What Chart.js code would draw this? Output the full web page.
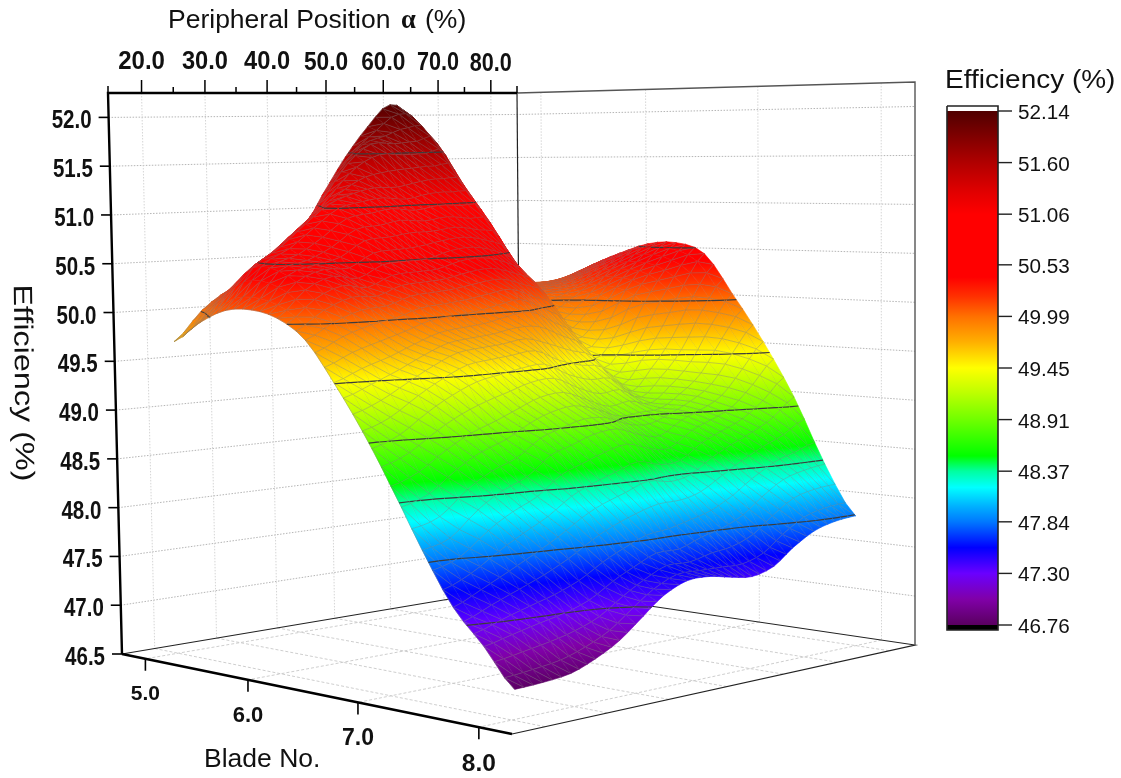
<!DOCTYPE html>
<html lang="en">
<head>
<meta charset="UTF-8">
<title>Efficiency surface</title>
<script src="https://cdn.jsdelivr.net/npm/chart.js"></script>
<style>
    html, body { margin: 0; padding: 0; background: #fff; }
    canvas { display: block; }
</style>
</head>
<body>
<canvas id="surface" width="1121" height="778"></canvas>
<script>
// axis ticks
const bladeTicks = [5, 6, 7, 8];
const alphaTicks = [20, 30, 40, 50, 60, 70, 80];
const alphaMinor = [25, 35, 45, 55, 65, 75];
const effTicks = [46.5, 47, 47.5, 48, 48.5, 49, 49.5, 50, 50.5, 51, 51.5, 52];
const barTicks = [46.76, 47.30, 47.84, 48.37, 48.91, 49.45, 49.99, 50.53, 51.06, 51.60, 52.14];

// surface grid: blade numbers, and one efficiency list per peripheral position
const bladeNo = [5, 5.25, 5.5, 5.75, 6, 6.25, 6.5, 6.75, 7, 7.25, 7.5, 7.75, 8];
const alphaPos = [20.5, 25, 29.5, 33.5, 37.5, 41.5, 45, 49, 53, 57, 60.5, 64.5, 68, 72, 76, 80];
const eff20 = [49.70, 49.92, 50.07, 50.10, 50.04, 49.85, 49.46, 49.02, 48.52, 47.95, 47.45, 47.13, 46.78];
const eff25 = [50.00, 50.22, 50.48, 50.47, 50.30, 50.00, 49.57, 49.12, 48.62, 48.02, 47.57, 47.19, 46.79];
const eff29 = [50.20, 50.42, 50.68, 50.56, 50.42, 50.10, 49.66, 49.30, 48.80, 48.25, 47.70, 47.25, 46.82];
const eff33 = [50.30, 50.60, 50.90, 50.68, 50.38, 50.12, 49.76, 49.44, 48.93, 48.40, 47.82, 47.30, 46.91];
const eff37 = [50.56, 50.85, 51.10, 50.85, 50.50, 50.20, 49.85, 49.55, 49.02, 48.50, 47.95, 47.38, 47.04];
const eff41 = [50.78, 51.20, 51.20, 50.88, 50.52, 50.22, 49.88, 49.58, 49.12, 48.68, 48.10, 47.52, 47.23];
const eff45 = [51.15, 51.50, 51.25, 50.92, 50.53, 50.24, 49.90, 49.60, 49.20, 48.75, 48.20, 47.62, 47.39];
const eff49 = [51.55, 51.70, 51.25, 50.90, 50.60, 50.28, 49.95, 49.62, 49.22, 48.83, 48.28, 47.72, 47.49];
const eff53 = [51.88, 51.70, 51.30, 50.93, 50.62, 50.30, 49.98, 49.50, 49.12, 48.85, 48.36, 47.72, 47.49];
const eff57 = [52.12, 51.72, 51.32, 50.90, 50.56, 50.22, 49.85, 49.42, 49.02, 48.76, 48.32, 47.80, 47.44];
const eff60 = [51.92, 51.70, 51.25, 50.85, 50.42, 50.12, 49.72, 49.38, 49.05, 48.72, 48.36, 47.85, 47.41];
const eff64 = [51.00, 50.80, 50.50, 50.25, 50.00, 49.72, 49.42, 49.17, 49.00, 48.85, 48.50, 47.95, 47.47];
const eff68 = [50.45, 50.30, 50.20, 50.12, 50.02, 49.85, 49.62, 49.40, 49.15, 48.93, 48.60, 48.10, 47.62];
const eff72 = [50.20, 50.15, 50.12, 50.12, 50.14, 50.14, 50.05, 49.74, 49.38, 49.05, 48.70, 48.24, 47.75];
const eff76 = [50.05, 50.10, 50.12, 50.20, 50.32, 50.38, 50.35, 50.15, 49.75, 49.30, 48.82, 48.30, 47.81];
const eff80 = [50.00, 50.06, 50.16, 50.32, 50.45, 50.56, 50.58, 50.47, 50.05, 49.56, 49.00, 48.33, 47.83];
const effByAlpha = [eff20, eff25, eff29, eff33, eff37, eff41, eff45, eff49, eff53, eff57, eff60, eff64, eff68, eff72, eff76, eff80];

// colour ramp of the bar
const rampVal = [46.76, 47.03, 47.30, 47.57, 47.84, 48.00, 48.20, 48.37, 48.53, 48.91, 49.20, 49.45, 49.72, 49.99, 50.20, 50.40, 51.06, 51.30, 51.60, 52.14];
const rampCol = ['#5a0060', '#8000a8', '#6a00ff', '#0000ff', '#0078ff', '#00b0ff', '#00ffff', '#00ffa0', '#00ff00', '#70ff00', '#c0ff00', '#ffff00', '#ffb000', '#ff7000', '#ff3000', '#ff0000', '#ff0000', '#e00000', '#b00000', '#500000'];

// box of the 3D view, in page pixels: floor corners then top corners
const fl = { a: [122, 654], b: [512, 734], c: [915, 645], d: [521, 587] };
const tp = { a: [108, 93], b: [505, 107], c: [915, 82], d: [517, 93] };
const effMin = 46.5, effMax = 52.25;
// tick positions along the box edges (perspective shortens them)
const uAt = [0.082, 0.237, 0.389, 0.533, 0.673, 0.807, 0.936];
const vAt = [0.06, 0.323, 0.605, 0.915];

function lerpTable(x, xs, ys) {
    let i = 0;
    while (i < xs.length - 2 && x > xs[i + 1]) i++;
    return ys[i] + (ys[i + 1] - ys[i]) * (x - xs[i]) / (xs[i + 1] - xs[i]);
}
function uvwPoint(u, v, w) {
    const k = [(1 - u) * (1 - v), (1 - u) * v, u * v, u * (1 - v)];
    const names = ['a', 'b', 'c', 'd'];
    let x = 0, y = 0;
    names.forEach((n, i) => {
        x += k[i] * (fl[n][0] * (1 - w) + tp[n][0] * w);
        y += k[i] * (fl[n][1] * (1 - w) + tp[n][1] * w);
    });
    return { x, y };
}
function project(blade, alpha, eff) {
    const u = lerpTable(alpha, alphaTicks, uAt);
    const v = lerpTable(blade, bladeTicks, vAt);
    const p = uvwPoint(u, v, (eff - effMin) / (effMax - effMin));
    p.z = eff;
    return p;
}
function wOf(eff) { return (eff - effMin) / (effMax - effMin); }

// curved drawing of the sheet between the read values, same idea as a line's tension
const steps = 3;
function curve(list) {
    const out = [];
    for (let i = 0; i < list.length - 1; i++) {
        const p0 = list[Math.max(i - 1, 0)], p1 = list[i], p2 = list[i + 1], p3 = list[Math.min(i + 2, list.length - 1)];
        for (let s = 0; s < steps; s++) {
            const t = s / steps;
            out.push(0.5 * (2 * p1 + (p2 - p0) * t + (2 * p0 - 5 * p1 + 4 * p2 - p3) * t * t + (3 * p1 - p0 - 3 * p2 + p3) * t * t * t));
        }
    }
    out.push(list[list.length - 1]);
    return out;
}
function straight(list) {
    const out = [];
    for (let i = 0; i < list.length - 1; i++) {
        for (let s = 0; s < steps; s++) out.push(list[i] + (list[i + 1] - list[i]) * s / steps);
    }
    out.push(list[list.length - 1]);
    return out;
}
const bladeDraw = straight(bladeNo);
const alphaDraw = straight(alphaPos);
const colCurves = effByAlpha.map(curve);
const effDraw = bladeDraw.map((b, i) => curve(colCurves.map(c => c[i])));   // [blade][alpha]

const canvas = document.getElementById('surface');
const g2d = canvas.getContext('2d');

function triFill(p, q, r) {
    const pts = [p, q, r].sort((m, n) => m.z - n.z);
    const lo = pts[0], hi = pts[2];
    const det = (q.x - p.x) * (r.y - p.y) - (r.x - p.x) * (q.y - p.y);
    if (Math.abs(det) < 0.05 || hi.z - lo.z < 0.001) return rampColor(lo.z);
    const A = ((q.z - p.z) * (r.y - p.y) - (r.z - p.z) * (q.y - p.y)) / det;
    const B = ((r.z - p.z) * (q.x - p.x) - (q.z - p.z) * (r.x - p.x)) / det;
    const L = A * A + B * B;
    const t = (hi.z - lo.z) / L;
    const g = g2d.createLinearGradient(lo.x, lo.y, lo.x + A * t, lo.y + B * t);
    g.addColorStop(0, rampColor(lo.z));
    rampVal.forEach((val, i) => {
        if (val > lo.z && val < hi.z) g.addColorStop((val - lo.z) / (hi.z - lo.z), rampCol[i]);
    });
    g.addColorStop(1, rampColor(hi.z));
    return g;
}
function hex(c) { return [1, 3, 5].map(i => parseInt(c.substr(i, 2), 16)); }
function rampColor(val) {
    let i = 0;
    if (val <= rampVal[0]) return rampCol[0];
    if (val >= rampVal[rampVal.length - 1]) return rampCol[rampCol.length - 1];
    while (val > rampVal[i + 1]) i++;
    const t = (val - rampVal[i]) / (rampVal[i + 1] - rampVal[i]);
    const c0 = hex(rampCol[i]), c1 = hex(rampCol[i + 1]);
    return 'rgb(' + c0.map((c, k) => Math.round(c + (c1[k] - c) * t)).join(',') + ')';
}

function lineSet(points, color, width, dash) {
    return { data: points, showLine: true, fill: false, pointRadius: 0, borderColor: color, borderWidth: width, borderDash: dash || [], tension: 0, spanGaps: false };
}
function polySet(points, fillStyle, stroke, width) {
    return { data: points.concat([points[0]]), showLine: true, fill: 'shape', backgroundColor: fillStyle, pointRadius: 0, borderColor: stroke, borderWidth: width, tension: 0 };
}
const gap = { x: NaN, y: NaN };

// paint order: back to front, reversed at the end because Chart.js draws the last dataset first
const layers = [];

// walls and floor grid
effTicks.slice(1).forEach(e => {
    layers.push(lineSet([uvwPoint(0, 0, wOf(e)), uvwPoint(1, 0, wOf(e)), uvwPoint(1, 1, wOf(e))], '#adadad', 0.9, [1.5, 1.5]));
});
alphaTicks.forEach((a, i) => {
    layers.push(lineSet([uvwPoint(uAt[i], 0, 1), uvwPoint(uAt[i], 0, 0)], '#d0d0d0', 0.9, [1.5, 1.5]));
    layers.push(lineSet([uvwPoint(uAt[i], 0, 0), uvwPoint(uAt[i], 1, 0)], '#c8c8c8', 0.9, [3, 2]));
});
bladeTicks.forEach((b, i) => {
    layers.push(lineSet([uvwPoint(1, vAt[i], 1), uvwPoint(1, vAt[i], 0)], '#d0d0d0', 0.9, [1.5, 1.5]));
    layers.push(lineSet([uvwPoint(1, vAt[i], 0), uvwPoint(0, vAt[i], 0)], '#c8c8c8', 0.9, [3, 2]));
});

// box edges
layers.push(lineSet([uvwPoint(0, 0, 0), uvwPoint(1, 0, 0), uvwPoint(1, 1, 0), uvwPoint(0, 1, 0)], '#222', 1.2));
layers.push(lineSet([uvwPoint(1, 0, 0), uvwPoint(1, 0, 1)], '#222', 1.2));
layers.push(lineSet([uvwPoint(1, 0, 1), uvwPoint(1, 1, 1), uvwPoint(1, 1, 0)], '#555', 1.4));

// surface cells, farthest first
const levels = barTicks.slice(1, -1);
for (let i = 0; i < bladeDraw.length - 1; i++) {
    for (let j = alphaDraw.length - 2; j >= 0; j--) {
        const p00 = project(bladeDraw[i], alphaDraw[j], effDraw[i][j]);
        const p01 = project(bladeDraw[i], alphaDraw[j + 1], effDraw[i][j + 1]);
        const p10 = project(bladeDraw[i + 1], alphaDraw[j], effDraw[i + 1][j]);
        const p11 = project(bladeDraw[i + 1], alphaDraw[j + 1], effDraw[i + 1][j + 1]);
        const f1 = triFill(p00, p01, p11), f2 = triFill(p00, p11, p10);
        layers.push(polySet([p00, p01, p11], f1, f1, 0.6));
        layers.push(polySet([p00, p11, p10], f2, f2, 0.6));

        // wire mesh on the cell
        layers.push(lineSet([p10, p00, p01, gap, p00, p11], 'rgba(120,120,120,0.6)', 0.65));

        // contour segments crossing the two triangles
        const seg = [];
        [[p00, p01, p11], [p00, p11, p10]].forEach(tri => {
            levels.forEach(lv => {
                const hit = [];
                for (let k = 0; k < 3; k++) {
                    const m = tri[k], n = tri[(k + 1) % 3];
                    if ((m.z < lv) !== (n.z < lv)) {
                        const t = (lv - m.z) / (n.z - m.z);
                        hit.push({ x: m.x + (n.x - m.x) * t, y: m.y + (n.y - m.y) * t });
                    }
                }
                if (hit.length === 2) seg.push(hit[0], hit[1], gap);
            });
        });
        if (seg.length) layers.push(lineSet(seg, '#3c3c3c', 1.2));
    }
}

// thick axes in front
layers.push(lineSet([uvwPoint(0, 0, 0), uvwPoint(0, 0, 1), uvwPoint(1, 0, 1)], '#000', 2.4));
layers.push(lineSet([uvwPoint(0, 0, 0), uvwPoint(0, 1, 0)], '#000', 2.6));
effTicks.forEach(e => {
    const p = uvwPoint(0, 0, wOf(e));
    layers.push(lineSet([p, { x: p.x - 10, y: p.y }], '#000', 1.6));
});
alphaTicks.forEach((a, i) => {
    const p = uvwPoint(uAt[i], 0, 1);
    layers.push(lineSet([p, { x: p.x, y: p.y - 13 }], '#000', 1.5));
});
alphaMinor.forEach(a => {
    const p = uvwPoint(lerpTable(a, alphaTicks, uAt), 0, 1);
    layers.push(lineSet([p, { x: p.x, y: p.y - 6 }], '#000', 1.5));
});
layers.push(lineSet([uvwPoint(0, 0, 1), { x: 108, y: 86 }], '#000', 1.5));
layers.push(lineSet([uvwPoint(1, 0, 1), { x: 517, y: 86 }], '#000', 1.5));
bladeTicks.forEach((b, i) => {
    const p = uvwPoint(0, vAt[i], 0);
    layers.push(lineSet([p, { x: p.x, y: p.y + 12 }], '#000', 1.6));
});

// colour bar
const barL = 947, barR = 998, barTop = 106, barBot = 630;
const barY = val => 625 - (val - 46.76) * (514 / 5.38);
const barGrad = g2d.createLinearGradient(0, barY(46.76), 0, barY(52.14));
rampVal.forEach((val, i) => barGrad.addColorStop(Math.min(1, (val - 46.76) / 5.38), rampCol[i]));
const rect = (y0, y1) => [{ x: barL, y: y0 }, { x: barR, y: y0 }, { x: barR, y: y1 }, { x: barL, y: y1 }];
layers.push(polySet(rect(barY(52.14), barY(46.76)), barGrad, 'rgba(0,0,0,0)', 0));
layers.push(polySet(rect(barY(46.76), barBot), '#000', '#000', 0));
layers.push(lineSet(rect(barTop, barBot).concat([{ x: barL, y: barTop }]), '#222', 1.6));
barTicks.forEach(val => {
    layers.push(lineSet([{ x: barR, y: barY(val) }, { x: 1012, y: barY(val) }], '#222', 1.4));
});

function drawText(ctx, str, x, y, font, align, sx, sy, rot) {
    ctx.save();
    ctx.translate(x, y);
    if (rot) ctx.rotate(rot);
    ctx.scale(sx || 1, sy || 1);
    ctx.font = font;
    ctx.textAlign = align;
    ctx.textBaseline = 'alphabetic';
    ctx.fillStyle = '#111';
    ctx.fillText(str, 0, 0);
    ctx.restore();
}

const alphaLabelW = [1.0, 0.985, 0.985, 0.945, 0.945, 0.9, 0.9];
const bladeLabelSize = [21, 22, 23, 24.5];
const axisText = {
    id: 'axisText',
    afterDraw(chart) {
        const ctx = chart.ctx;
        const sans = '"Liberation Sans", Arial, sans-serif';
        alphaTicks.forEach((a, i) => {
            const p = uvwPoint(uAt[i], 0, 1);
            drawText(ctx, a.toFixed(1), p.x, 68.5 + i * 0.35, 'bold 24px ' + sans, 'center', alphaLabelW[i], 1.04);
        });
        effTicks.forEach(e => {
            const p = uvwPoint(0, 0, wOf(e));
            drawText(ctx, e.toFixed(1), p.x - 17, p.y + 11, 'bold 20.5px ' + sans, 'right', 1, 1.22);
        });
        bladeTicks.forEach((b, i) => {
            const p = uvwPoint(0, vAt[i], 0);
            drawText(ctx, b.toFixed(1), p.x, p.y + 41 + i * 0.8, 'bold ' + bladeLabelSize[i] + 'px ' + sans, 'center', 1, 1);
        });
        barTicks.forEach(val => {
            drawText(ctx, val.toFixed(2), 1018, barY(val) + 8, '20.7px ' + sans, 'left');
        });
        drawText(ctx, 'Peripheral Position', 168, 28, '26.5px ' + sans, 'left');
        drawText(ctx, 'α', 401, 28, 'bold 26.5px "Liberation Serif", serif', 'left');
        drawText(ctx, '(%)', 425, 28, '26.5px ' + sans, 'left');
        drawText(ctx, 'Blade No.', 204, 767, '26.5px ' + sans, 'left');
        drawText(ctx, 'Efficiency (%)', 945, 88, '26.5px ' + sans, 'left', 1.055, 1);
        drawText(ctx, 'Efficiency (%)', 15, 383, '26.5px ' + sans, 'center', 1.22, 1, Math.PI / 2 - 0.012);
    }
};

new Chart(canvas, {
    type: 'scatter',
    data: { datasets: layers.reverse() },
    plugins: [axisText],
    options: {
        responsive: false,
        animation: false,
        events: [],
        layout: { padding: 0 },
        plugins: { legend: { display: false }, tooltip: { enabled: false } },
        scales: {
            x: { type: 'linear', display: false, min: 0, max: 1121 },
            y: { type: 'linear', display: false, min: 0, max: 778, reverse: true }
        }
    }
});
</script>
</body>
</html>
